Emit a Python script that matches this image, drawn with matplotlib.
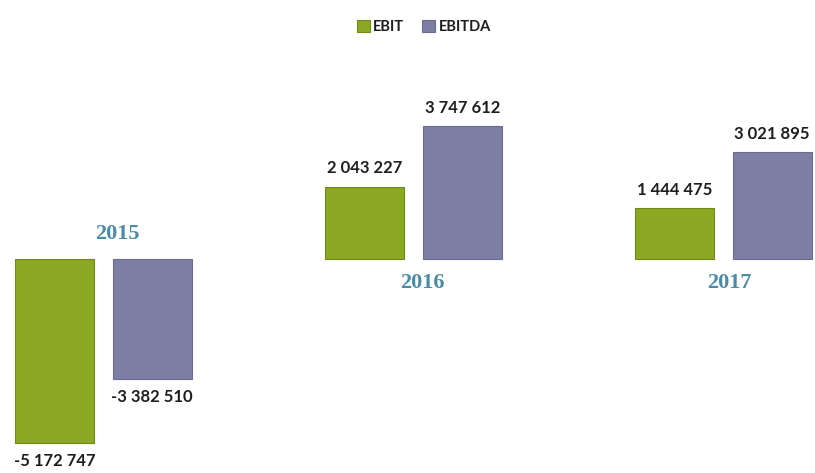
import numpy as np
import matplotlib
matplotlib.use("Agg")
import matplotlib.pyplot as plt

# ======================================================
# DATA
# ======================================================

years = ["2015", "2016", "2017"]
ebit = [-5172747, 2043227, 1444475]
ebitda = [-3382510, 3747612, 3021895]
series_names = ["EBIT", "EBITDA"]

GREEN = "#8ba822"
PURPLE = "#7d7ea3"
YEAR_COLOR = "#4a8ca6"
TEXT_COLOR = "#1e1e1e"


def fmt(v):
    s = "{:,}".format(abs(int(v))).replace(",", " ")
    return ("-" if v < 0 else "") + s


# ======================================================
# FIGURE
# ======================================================

fig = plt.figure(figsize=(8.15, 4.73), dpi=100)
ax = fig.add_axes([0, 0, 1, 1])
ax.axis("off")

x = np.arange(len(years))
width = 0.255
offset = 0.157

bars1 = ax.bar(x - offset, ebit, width, color=GREEN, edgecolor="#6f8a18",
               linewidth=0.8, label=series_names[0])
bars2 = ax.bar(x + offset, ebitda, width, color=PURPLE, edgecolor="#6a6b90",
               linewidth=0.8, label=series_names[1])

ax.set_xlim(-0.334, 2.295)
ax.set_ylim(-6.03e6, 7.30e6)

# value labels
for bars in (bars1, bars2):
    for b in bars:
        v = b.get_height()
        dy = 13 if v >= 0 else -13
        ax.annotate(fmt(v), (b.get_x() + b.get_width() / 2, v),
                    xytext=(0, dy), textcoords="offset points",
                    ha="center", va="center", fontsize=12,
                    fontweight="bold", family="Lato", color=TEXT_COLOR)

# year labels near zero line
year_dx = [10, 6, 4]
for i, yr in enumerate(years):
    up = ebit[i] < 0
    dy = 18 if up else -17
    ax.annotate(yr, (x[i], 0), xytext=(year_dx[i], dy), textcoords="offset points",
                ha="center", va="center", fontsize=16, fontweight="bold",
                family="Liberation Serif", color=YEAR_COLOR)

# legend
leg = fig.legend(loc="upper center", bbox_to_anchor=(0.52, 0.985), ncol=2,
                 frameon=False, handlelength=0.9, handleheight=0.9,
                 handletextpad=0.25, columnspacing=1.2,
                 prop={"family": "Lato", "weight": "bold", "size": 10.5})
for t in leg.get_texts():
    t.set_color(TEXT_COLOR)

plt.savefig("out.png", dpi=100)
